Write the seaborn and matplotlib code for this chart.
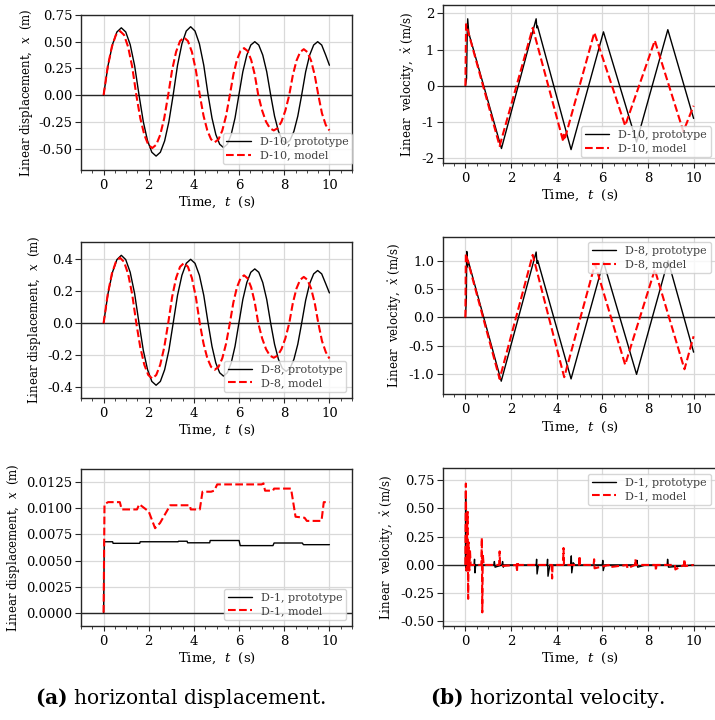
import numpy as np
import pandas as pd
import seaborn as sns
import matplotlib
matplotlib.use("Agg")
import matplotlib.pyplot as plt
from matplotlib.ticker import MultipleLocator, FormatStrFormatter

# %% data
# prototype time base (D-10 and D-8 share it)
t_proto = [0, 0.196, 0.393, 0.589, 0.785, 0.981, 1.178, 1.374, 1.57,
           1.759, 1.948, 2.136, 2.325, 2.514, 2.703, 2.891, 3.08,
           3.274, 3.468, 3.661, 3.855, 4.049, 4.243, 4.436, 4.63,
           4.80, 4.97, 5.14, 5.31, 5.48, 5.65, 5.82, 5.99,
           6.166, 6.343, 6.519, 6.695, 6.871, 7.048, 7.224, 7.40,
           7.571, 7.743, 7.914, 8.085, 8.256, 8.428, 8.599, 8.77,
           8.948, 9.125, 9.303, 9.48, 9.658, 9.835, 10.0]
# model time base (D-10 and D-8 share it)
t_model = [0, 0.181, 0.363, 0.544, 0.725, 0.906, 1.088, 1.269, 1.45,
           1.626, 1.803, 1.979, 2.155, 2.331, 2.508, 2.684, 2.86,
           3.035, 3.21, 3.385, 3.56, 3.735, 3.91, 4.085, 4.26,
           4.426, 4.593, 4.759, 4.925, 5.091, 5.258, 5.424, 5.59,
           5.748, 5.905, 6.063, 6.22, 6.378, 6.535, 6.693, 6.85,
           7.021, 7.193, 7.364, 7.535, 7.706, 7.878, 8.049, 8.22,
           8.381, 8.543, 8.704, 8.865, 9.026, 9.188, 9.349, 9.51,
           9.67, 9.84, 10.0]

# D-10 displacement (m)
d10_x_proto = [0, 0.276, 0.473, 0.591, 0.63, 0.591, 0.473, 0.276, 0,
               -0.249, -0.428, -0.534, -0.57, -0.534, -0.428, -0.249, 0,
               0.28, 0.48, 0.60, 0.64, 0.60, 0.48, 0.28, 0,
               -0.214, -0.368, -0.459, -0.49, -0.459, -0.368, -0.214, 0,
               0.219, 0.375, 0.469, 0.50, 0.469, 0.375, 0.219, 0,
               -0.197, -0.338, -0.422, -0.45, -0.422, -0.338, -0.197, 0,
               0.219, 0.375, 0.469, 0.50, 0.469, 0.375, 0.28]
d10_x_model = [0, 0.263, 0.45, 0.563, 0.60, 0.563, 0.45, 0.263, 0,
               -0.217, -0.371, -0.464, -0.495, -0.464, -0.371, -0.217, 0,
               0.236, 0.405, 0.506, 0.54, 0.506, 0.405, 0.236, 0,
               -0.193, -0.33, -0.413, -0.44, -0.413, -0.33, -0.193, 0,
               0.193, 0.33, 0.413, 0.44, 0.413, 0.33, 0.193, 0,
               -0.144, -0.248, -0.309, -0.33, -0.309, -0.248, -0.144, 0,
               0.188, 0.323, 0.403, 0.43, 0.403, 0.323, 0.188, 0,
               -0.17, -0.28, -0.33]

# D-8 displacement (m)
d8_x_proto = [0, 0.186, 0.319, 0.398, 0.425, 0.398, 0.319, 0.186, 0,
              -0.169, -0.290, -0.363, -0.387, -0.363, -0.290, -0.169, 0,
              0.175, 0.30, 0.375, 0.40, 0.375, 0.30, 0.175, 0,
              -0.144, -0.248, -0.309, -0.33, -0.309, -0.248, -0.144, 0,
              0.149, 0.255, 0.319, 0.34, 0.319, 0.255, 0.149, 0,
              -0.131, -0.225, -0.281, -0.30, -0.281, -0.225, -0.131, 0,
              0.144, 0.248, 0.309, 0.33, 0.309, 0.248, 0.19]
d8_x_model = [0, 0.179, 0.308, 0.384, 0.41, 0.384, 0.308, 0.179, 0,
              -0.151, -0.259, -0.323, -0.345, -0.323, -0.259, -0.151, 0,
              0.165, 0.283, 0.353, 0.377, 0.353, 0.283, 0.165, 0,
              -0.127, -0.218, -0.272, -0.29, -0.272, -0.218, -0.127, 0,
              0.131, 0.225, 0.281, 0.30, 0.281, 0.225, 0.131, 0,
              -0.094, -0.161, -0.202, -0.215, -0.202, -0.161, -0.094, 0,
              0.127, 0.218, 0.272, 0.29, 0.272, 0.218, 0.127, 0,
              -0.11, -0.18, -0.22]

# D-10 velocity (m/s)
d10_tv_proto = [0, 0.05, 0.08, 0.1, 0.15, 1.58, 3.1, 3.13, 3.16, 4.63, 6.05, 7.5, 8.87, 10.0]
d10_v_proto = [0, 0.2, 1.45, 1.85, 1.45, -1.73, 1.85, 1.6, 1.65, -1.76, 1.49, -1.55, 1.55, -0.9]
d10_tv_model = [0, 0.03, 1.5, 2.95, 4.28, 4.31, 4.34, 5.65, 7.0, 8.3, 9.55, 10.0]
d10_v_model = [0, 1.7, -1.66, 1.6, -1.52, -1.35, -1.5, 1.47, -1.1, 1.25, -1.26, -0.55]

# D-8 velocity (m/s)
d8_tv_proto = [0, 0.04, 0.06, 0.09, 0.12, 1.57, 3.1, 3.14, 3.17, 4.63, 6.05, 7.5, 8.88, 10.0]
d8_v_proto = [0, 0.3, 1.16, 0.89, 1.0, -1.12, 1.15, 0.95, 1.0, -1.08, 0.98, -1.0, 1.0, -0.61]
d8_tv_model = [0, 0.02, 1.5, 2.95, 4.33, 5.68, 7.0, 8.3, 9.6, 10.0]
d8_v_model = [0, 1.12, -1.08, 1.1, -1.05, 0.94, -0.83, 0.84, -0.91, -0.33]

# D-1 displacement (m)
d1_t_proto = [0, 0.03, 0.4, 0.42, 1.6, 1.62, 3.3, 3.32, 3.7, 3.72, 4.7, 4.72, 6.0, 6.05,
              7.5, 7.55, 8.8, 8.85, 10.0]
d1_x_proto = [0, 0.0068, 0.0068, 0.00665, 0.00665, 0.0068, 0.0068, 0.00685, 0.00685, 0.0067,
              0.0067, 0.00692, 0.00692, 0.00643, 0.00643, 0.00668, 0.00668, 0.00652, 0.00652]
d1_t_model = [0, 0.04, 0.2, 0.72, 0.8, 1.48, 1.58, 2.0, 2.28, 2.5, 2.95, 3.82, 3.86, 4.26,
              4.38, 4.76, 4.9, 5.03, 7.0, 7.08, 7.15, 7.5, 7.55, 8.3, 8.5, 8.9, 9.0, 9.65,
              9.75, 10.0]
d1_x_model = [0, 0.0104, 0.0106, 0.0106, 0.0099, 0.0099, 0.0104, 0.0097, 0.0081, 0.0086,
              0.0103, 0.0103, 0.0099, 0.0099, 0.0116, 0.0116, 0.0117, 0.0123, 0.0123, 0.0124,
              0.0117, 0.0117, 0.0119, 0.0119, 0.0092, 0.0091, 0.0088, 0.0088, 0.0106, 0.0106]

# D-1 velocity (m/s)
d1_tv_proto = [0, 0.01, 0.03, 0.05, 0.08, 0.12, 0.2, 0.38, 0.40, 0.42, 0.45, 1.25, 1.27,
               1.3, 1.6, 1.63, 1.66, 1.7, 3.1, 3.12, 3.14, 3.2, 3.58, 3.6, 3.62, 3.7,
               4.62, 4.64, 4.66, 4.72, 4.8, 6.0, 6.02, 6.04, 6.1, 7.5, 7.52, 7.55, 7.9,
               8.84, 8.86, 8.9, 10.0]
d1_v_proto = [0, 0.65, -0.05, 0.3, -0.05, 0.04, 0.0, 0.0, 0.05, -0.07, 0.0, 0.0, 0.03,
              -0.02, 0.0, 0.03, -0.02, 0.0, 0.0, 0.05, -0.08, 0.0, 0.0, 0.05, -0.1, 0.0,
              0.0, 0.08, -0.07, 0.02, 0.0, 0.0, 0.04, -0.05, 0.0, 0.0, 0.04, -0.02, 0.0,
              0.0, 0.05, -0.02, 0.0]
d1_tv_model = [0, 0.02, 0.05, 0.08, 0.1, 0.12, 0.14, 0.17, 0.2, 0.23, 0.7, 0.72, 0.74,
               0.76, 0.8, 1.48, 1.5, 1.52, 2.24, 2.26, 2.28, 2.3, 3.78, 3.8, 3.82, 4.28,
               4.3, 4.32, 4.98, 5.0, 5.02, 5.62, 5.64, 5.66, 6.28, 6.3, 7.08, 7.1, 7.43,
               7.45, 7.47, 8.33, 8.35, 8.37, 9.18, 9.2, 9.58, 9.6, 9.62, 10.0]
d1_v_model = [0, 0.72, -0.05, 0.35, 0.47, -0.3, 0.2, -0.05, 0.13, 0.0, 0.0, 0.24, -0.42,
              0.1, 0.0, 0.0, 0.12, -0.01, 0.0, -0.06, 0.03, 0.0, 0.0, -0.12, 0.0, 0.0,
              0.15, 0.0, 0.0, 0.08, 0.0, 0.0, 0.05, -0.03, 0.0, -0.02, 0.0, -0.03, 0.0,
              0.05, 0.0, 0.0, -0.05, 0.0, 0.0, -0.04, 0.0, 0.05, -0.01, 0.0]

# %% style
sns.set_theme(style="ticks")
plt.rcParams["font.family"] = ["DejaVu Serif"]
plt.rcParams["mathtext.fontset"] = "dejavuserif"
plt.rcParams["text.color"] = "black"
plt.rcParams["axes.labelcolor"] = "black"
plt.rcParams["axes.edgecolor"] = "0.15"
plt.rcParams["axes.linewidth"] = 1.0
plt.rcParams["xtick.color"] = "0.15"
plt.rcParams["ytick.color"] = "0.15"
plt.rcParams["xtick.labelcolor"] = "black"
plt.rcParams["ytick.labelcolor"] = "black"

fig = plt.figure(figsize=(7.15, 7.2), dpi=100)

# [left, bottom, width, height] of each panel
pos = {
    "tl": [0.1133, 0.7639, 0.379, 0.2153],
    "tr": [0.619, 0.7736, 0.383, 0.2194],
    "ml": [0.1133, 0.4476, 0.379, 0.2167],
    "mr": [0.619, 0.4524, 0.383, 0.2189],
    "bl": [0.1133, 0.131, 0.379, 0.2172],
    "br": [0.619, 0.1306, 0.383, 0.219],
}

panels = [
    ("tl", t_proto, d10_x_proto, t_model, d10_x_model, "D-10", "disp", (-0.7, 0.75), 0.25, "%.2f", "lower right"),
    ("tr", d10_tv_proto, d10_v_proto, d10_tv_model, d10_v_model, "D-10", "vel", (-2.13, 2.23), 1, "%d", "lower right"),
    ("ml", t_proto, d8_x_proto, t_model, d8_x_model, "D-8", "disp", (-0.465, 0.51), 0.2, "%.1f", "lower right"),
    ("mr", d8_tv_proto, d8_v_proto, d8_tv_model, d8_v_model, "D-8", "vel", (-1.35, 1.42), 0.5, "%.1f", "upper right"),
    ("bl", d1_t_proto, d1_x_proto, d1_t_model, d1_x_model, "D-1", "disp", (-0.00125, 0.01375), 0.0025, "%.4f", "lower right"),
    ("br", d1_tv_proto, d1_v_proto, d1_tv_model, d1_v_model, "D-1", "vel", (-0.54, 0.855), 0.25, "%.2f", "upper right"),
]

for key, tp, yp, tm, ym, name, kind, ylim, ystep, yfmt, loc in panels:
    ax = fig.add_axes(pos[key])
    ax.grid(True, color="#d9d9d9", lw=0.9, zorder=0)
    ax.axhline(0, color="0.15", lw=1.0, zorder=1)
    sns.lineplot(x=tp, y=yp, ax=ax, color="black", lw=1.0, estimator=None, sort=False,
                 label=f"{name}, prototype", zorder=3)
    sns.lineplot(x=tm, y=ym, ax=ax, color="red", lw=1.5, linestyle="--", estimator=None,
                 sort=False, label=f"{name}, model", zorder=4)
    ax.set_xlim(-1, 11)
    ax.set_ylim(*ylim)
    ax.xaxis.set_major_locator(MultipleLocator(2))
    ax.xaxis.set_minor_locator(MultipleLocator(0.5))
    ax.yaxis.set_major_locator(MultipleLocator(ystep))
    ax.yaxis.set_major_formatter(FormatStrFormatter(yfmt))
    ax.tick_params(axis="x", which="major", length=3.5, width=0.8, labelsize=9.5, pad=3)
    ax.tick_params(axis="y", which="major", length=4.5, width=0.8, labelsize=9.5, pad=1.5)
    ax.tick_params(axis="x", which="minor", length=2, width=0.6)
    ax.tick_params(axis="y", which="minor", left=False)
    ax.set_xlabel(r"Time,  $t$  (s)", fontsize=9.5, labelpad=2)
    if kind == "disp":
        ax.set_ylabel(r"Linear displacement,  $x$  (m)", fontsize=8.5, labelpad=3)
    else:
        ax.set_ylabel(r"Linear  velocity,  $\dot{x}$ (m/s)", fontsize=8.5, labelpad=3)
    anchor = (1.022, 0.0) if key == "tl" else None
    leg = ax.legend(loc=loc, fontsize=8, frameon=True, fancybox=True, framealpha=0.8,
                    edgecolor="#cccccc", handlelength=2.2, borderpad=0.35,
                    labelspacing=0.3, bbox_to_anchor=anchor)
    for txt in leg.get_texts():
        txt.set_color("0.25")

fig.text(0.253, 0.03, r"$\mathbf{(a)}$ horizontal displacement.", ha="center", va="center",
         fontsize=14.5, color="black")
fig.text(0.766, 0.03, r"$\mathbf{(b)}$ horizontal velocity.", ha="center", va="center",
         fontsize=14.5, color="black")

fig.savefig("out.png", dpi=100)
